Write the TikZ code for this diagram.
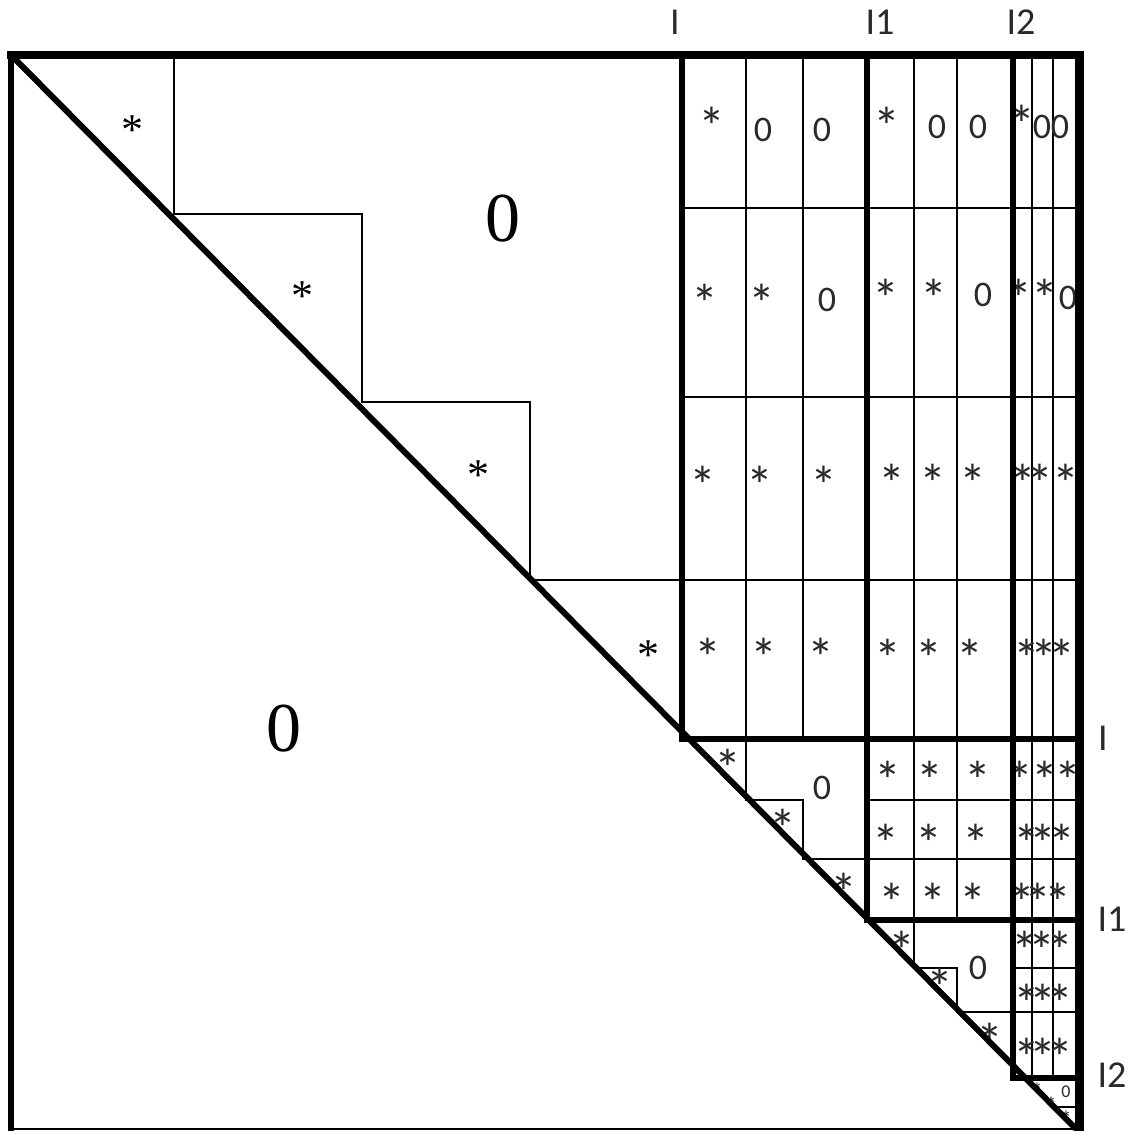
\documentclass[tikz,border=0pt]{standalone}
\usepackage{fontspec}
\newfontfamily\carl{Carlito}
\newfontfamily\tms{Liberation Serif}
\definecolor{txt}{HTML}{2A2A2A}
\begin{document}
\begin{tikzpicture}[x=1pt,y=-1pt,
  heavy/.style={line width=5.5pt,line join=miter},
  light/.style={line width=1.6pt},
  gs/.style={font=\carl\fontsize{54}{54}\selectfont,text=txt,inner sep=0pt,anchor=base,yshift=-29pt},
  gz/.style={font=\carl\fontsize{36}{36}\selectfont,text=txt,inner sep=0pt,anchor=base,yshift=-11.5pt},
  lab/.style={font=\carl\fontsize{38}{38}\selectfont,text=txt,inner sep=0pt,anchor=base,yshift=-12.5pt},
  ms/.style={font=\tms\fontsize{44}{44}\selectfont,inner sep=0pt,anchor=base,yshift=-22pt},
  mz/.style={font=\tms\fontsize{70}{70}\selectfont,inner sep=0pt,anchor=base,yshift=-23.5pt},
  ts/.style={font=\carl\fontsize{22}{22}\selectfont,text=txt,inner sep=0pt,anchor=base,yshift=-12pt},
  tz/.style={font=\carl\fontsize{18}{18}\selectfont,text=txt,inner sep=0pt,anchor=base,yshift=-6pt}]
\useasboundingbox (0,0) rectangle (1129,1131);
% thin grid lines
\draw[light] (746,55)--(746,739) (803,55)--(803,739);
\draw[light] (914,55)--(914,920) (957,55)--(957,920);
\draw[light] (1032,55)--(1032,1078) (1053,55)--(1053,1078);
\foreach \yy in {208,397,580} \draw[light] (682,\yy)--(1079,\yy);
\foreach \yy in {800,859} \draw[light] (867,\yy)--(1079,\yy);
\foreach \yy in {968,1012} \draw[light] (1013,\yy)--(1079,\yy);
% staircases along the diagonal
\draw[light] (174,55)--(174,214)--(362,214)--(362,402)--(530,402)--(530,580)--(682,580);
\draw[light] (746,739)--(746,800)--(803,800)--(803,859)--(867,859);
\draw[light] (914,920)--(914,968)--(957,968)--(957,1012)--(1013,1012);
\draw[light] (1054,1107)--(1079,1107);
% texts
\foreach \x/\y [count=\i] in {712/117,887/117,1022/115,
  705/293,762/293,886/288,934/288,1019/288,1045/288,
  703/475,760/475,824/475,892/473,933/473,973/473,1023/473,1040/473,1066/473,
  708/647,764/647,821/647,888/648,929/648,970/648,1027/648,1044/648,1062/648,
  888/770,930/770,978/770,1020/770,1045/770,1068/770,
  886/833,929/833,976/833,1027/833,1043/833,1062/833,
  892/892,933/892,973/892,1022/892,1038/892,1058/892,
  1025/940,1042/940,1060/940,1027/993,1043/993,1060/993,1027/1047,1043/1047,1060/1047,
  728/758,783/818,844/882,902/940,940/977,990/1032}
  \node[gs] (gs\i) at (\x,\y) {*};
\foreach \x/\y [count=\i] in {763/130,822/130,937/127,978/127,1042/127,1060/127,
  827/300,983/295,1068/298,822/788,978/968}
  \node[gz] (gz\i) at (\x,\y) {0};
\foreach \x/\y [count=\i] in {132/123,302/288,478/467,648/647}
  \node[ms] (ms\i) at (\x,\y) {*};
\node[mz] (mz1) at (503,218) {0};
\node[mz] (mz2) at (284,728) {0};
\node[ts] (ts1) at (1037,1086) {*};
\node[ts] (ts2) at (1051,1100) {*};
\node[tz] (tz1) at (1066,1091) {0};
\node[ts] (ts3) at (1066,1114) {*};
\node[lab] (lt0) at (675,22) {I};
\node[lab] (lt1) at (880,22) {I1};
\node[lab] (lt2) at (1021,22) {I2};
\node[lab] (lr0) at (1103,738) {I};
\node[lab] (lr1) at (1112,919) {I1};
\node[lab] (lr2) at (1112,1075) {I2};
% block boundaries
\draw[heavy] (682,55)--(682,739)--(1079,739);
\draw[heavy] (867,55)--(867,920)--(1079,920);
\draw[heavy] (1013,55)--(1013,1078)--(1079,1078);
% diagonal
\draw[line width=6pt] (11,55)--(1076,1129);
% frame
\draw[line width=8pt] (7,55)--(1083,55);
\draw[line width=6pt] (11,51)--(11,1131);
\draw[line width=9pt] (1079,51)--(1079,1131);
\draw[line width=2.5pt] (11,1129)--(1079,1129);
\end{tikzpicture}
\end{document}
